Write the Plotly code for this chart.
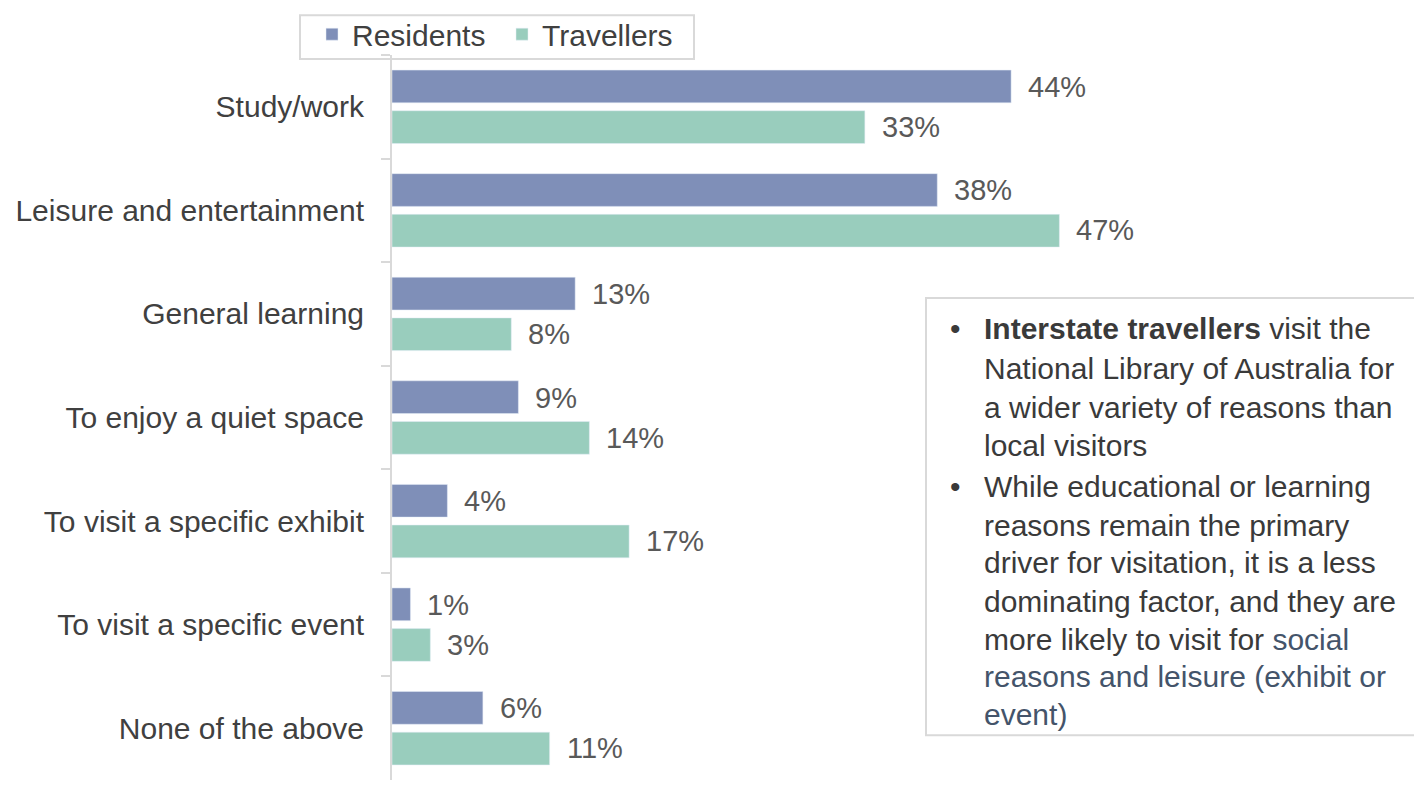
import plotly.graph_objects as go

# reasons for visiting, top to bottom
categories = [
    "Study/work",
    "Leisure and entertainment",
    "General learning",
    "To enjoy a quiet space",
    "To visit a specific exhibit",
    "To visit a specific event",
    "None of the above",
]
residents = [43.6, 38.4, 12.9, 8.9, 3.9, 1.3, 6.4]
travellers = [33.3, 47.0, 8.4, 13.9, 16.7, 2.7, 11.1]

# call-out text, one entry per line
para1 = [
    "<b>Interstate travellers</b> visit the",
    "National Library of Australia for",
    "a wider variety of reasons than",
    "local visitors",
]
para2 = [
    "While educational or learning",
    "reasons remain the primary",
    "driver for visitation, it is a less",
    "dominating factor, and they are",
    "more likely to visit for <span style='color:#44546A'>social</span>",
    "<span style='color:#44546A'>reasons and leisure (exhibit or</span>",
    "<span style='color:#44546A'>event)</span>",
]

# the figure sits a few px in from the page corner
OFFX, OFFY = 8, 11
W, H = 1422 - OFFX, 787 - OFFY
L, T, B = 392 - OFFX, 52 - OFFY, 4
PW, PH = W - L, H - T - B
FONT = "Liberation Sans, Arial, sans-serif"
RES_COL = "#7F8FB8"
TRV_COL = "#99CDBD"
GRID = "#D9D9D9"


def px(x):
    # page x -> paper x
    return (x - OFFX - L) / PW


def py(y):
    # page y -> paper y
    return (H - B - (y - OFFY)) / PH


fig = go.Figure()
fig.add_trace(go.Bar(y=categories, x=residents, orientation="h",
                     name="Residents", marker_color=RES_COL))
fig.add_trace(go.Bar(y=categories, x=travellers, orientation="h",
                     name="Travellers", marker_color=TRV_COL))

# value labels, pushed out from the bar ends
for vals, shift in [(residents, 20), (travellers, -20)]:
    for cat, v in zip(categories, vals):
        fig.add_annotation(x=v, y=cat, xref="x", yref="y", text=f"{v:.0f}%",
                           showarrow=False, xanchor="left", yanchor="middle",
                           xshift=15, yshift=shift,
                           font=dict(size=29, color="#595959", family=FONT))

# legend frame
fig.add_shape(type="rect", xref="paper", yref="paper",
              x0=px(300), x1=px(694), y0=py(56), y1=py(12),
              line=dict(color=GRID, width=2), fillcolor="rgba(0,0,0,0)")

# call-out box
fig.add_shape(type="rect", xref="paper", yref="paper",
              x0=px(926), x1=px(1426), y0=py(738), y1=py(297),
              line=dict(color=GRID, width=2), fillcolor="rgba(0,0,0,0)")

line_y = [328, 368, 407, 446, 487, 526, 564, 603, 641, 679, 717]
lines = para1 + para2
for txt, y in zip(lines, line_y):
    fig.add_annotation(x=px(982), y=py(y), xref="paper", yref="paper", text=txt,
                       showarrow=False, xanchor="left", yanchor="middle",
                       font=dict(size=30, color="#3A3A3A", family=FONT))
for y in [line_y[0], line_y[len(para1)]]:
    fig.add_annotation(x=px(955), y=py(y), xref="paper", yref="paper", text="•",
                       showarrow=False, xanchor="center", yanchor="middle",
                       font=dict(size=30, color="#3A3A3A", family=FONT))

fig.update_layout(
    width=W,
    height=H,
    margin=dict(l=L, r=0, t=T, b=B),
    paper_bgcolor="white",
    plot_bgcolor="white",
    barmode="group",
    bargap=0.215,
    bargroupgap=0.195,
    font=dict(family=FONT, size=29, color="#595959"),
    showlegend=True,
    legend=dict(
        orientation="h",
        x=px(312), y=py(31), xanchor="left", yanchor="middle",
        borderwidth=0, bgcolor="rgba(0,0,0,0)",
        entrywidth=145, entrywidthmode="pixels",
        font=dict(size=30, color="#404040", family=FONT),
        traceorder="normal",
    ),
    xaxis=dict(range=[0, PW / 14.2], showgrid=False, zeroline=False,
               showticklabels=False, showline=False),
    yaxis=dict(
        autorange="reversed",
        showline=True, linecolor=GRID, linewidth=2,
        ticks="outside", tickson="boundaries", ticklen=9,
        tickcolor=GRID, tickwidth=2,
        ticklabelstandoff=20,
        tickfont=dict(size=30, color="#404040", family=FONT),
        showgrid=False,
    ),
)

fig.write_html("out.html")
